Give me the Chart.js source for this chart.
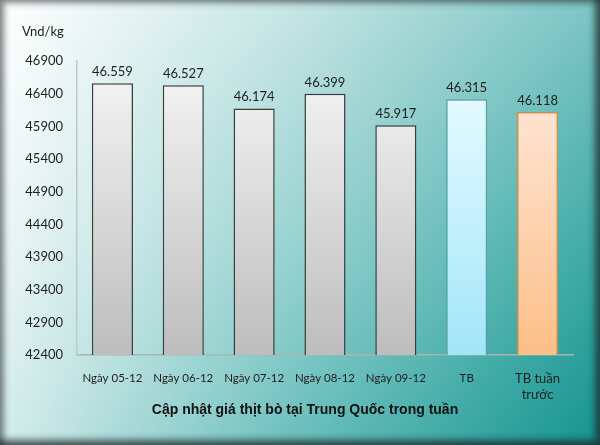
<!DOCTYPE html>
<html>
<head>
<meta charset="utf-8">
<script src="https://cdn.jsdelivr.net/npm/chart.js@4/dist/chart.umd.min.js"></script>
<style>
  html, body { margin: 0; padding: 0; }
  #chartBox { position: relative; width: 600px; height: 445px; }
  #priceCanvas { position: absolute; left: 0; top: 0; }
  #frame {
    position: absolute;
    left: 0; top: 0; width: 600px; height: 445px;
    pointer-events: none;
    box-shadow: inset -5px -5px 7px rgba(30, 40, 40, 0.75), inset 4px 3px 6px rgba(30, 40, 40, 0.55);
  }
</style>
</head>
<body>
<div id="chartBox">
  <canvas id="priceCanvas" width="600" height="445"></canvas>
  <div id="frame"></div>
</div>
<script>
const categories = [
  'Ngày 05-12',
  'Ngày 06-12',
  'Ngày 07-12',
  'Ngày 08-12',
  'Ngày 09-12',
  'TB',
  ['TB tuần', 'trước'],
];
const prices = [46559, 46527, 46174, 46399, 45917, 46315, 46118];
const yTicks = [42400, 42900, 43400, 43900, 44400, 44900, 45400, 45900, 46400, 46900];
const unitLabel = 'Vnd/kg';
const chartTitle = 'Cập nhật giá thịt bò tại Trung Quốc trong tuần';

const tickFont = "Lato, 'Open Sans', sans-serif";

// 46559 -> "46.559"
const formatPrice = v => {
  const s = String(v);
  return s.slice(0, s.length - 3) + '.' + s.slice(-3);
};

/**
 * vertical gradient for each kind of bar (grey days, blue avg, orange last week)
 */
const barFill = ({ chart, dataIndex }) => {
  const { ctx, chartArea } = chart;
  if (!chartArea) return '#d9d9d9';
  const g = ctx.createLinearGradient(0, chartArea.top + 20, 0, chartArea.bottom);
  if (dataIndex === 5) {
    g.addColorStop(0, '#e8fbff');
    g.addColorStop(1, '#a2e6f9');
  } else if (dataIndex === 6) {
    g.addColorStop(0, '#ffe8da');
    g.addColorStop(1, '#fcbf88');
  } else {
    g.addColorStop(0, '#f2f2f2');
    g.addColorStop(1, '#bdbdbd');
  }
  return g;
};

const barBorder = ({ dataIndex }) => {
  if (dataIndex === 5) return '#5a9fab';
  if (dataIndex === 6) return '#d98c40';
  return '#3c3c3c';
};

// background: colours of the top, middle and bottom rows (left, centre, right), blended row by row
const bgRows = [
  { at: 0, cols: [[255, 255, 255], [198, 229, 229], [124, 197, 195]] },
  { at: 0.55, cols: [[236, 246, 246], [150, 210, 208], [62, 170, 166]] },
  { at: 1, cols: [[212, 236, 236], [104, 190, 187], [20, 148, 143]] },
];

const backgroundPlugin = {
  id: 'cornerGradient',
  beforeDraw(chart) {
    const { ctx, width, height } = chart;
    ctx.save();
    for (let y = 0; y < height; y++) {
      const v = y / (height - 1);
      const r = v <= bgRows[1].at ? 0 : 1;
      const a = bgRows[r];
      const b = bgRows[r + 1];
      const f = (v - a.at) / (b.at - a.at);
      const g = ctx.createLinearGradient(0, 0, width, 0);
      [0, 0.5, 1].forEach((stop, i) => {
        const c = a.cols[i].map((t, k) => Math.round(t + (b.cols[i][k] - t) * f));
        g.addColorStop(stop, `rgb(${c[0]},${c[1]},${c[2]})`);
      });
      ctx.fillStyle = g;
      ctx.fillRect(0, y, width, 1);
    }
    ctx.restore();
  },
};

// value labels over the bars, unit text in the corner, title under the axis
const labelsPlugin = {
  id: 'valueLabels',
  afterDatasetsDraw(chart) {
    const { ctx } = chart;
    const meta = chart.getDatasetMeta(0);
    ctx.save();
    ctx.fillStyle = '#1e1e1e';
    ctx.font = `13px ${tickFont}`;
    ctx.textAlign = 'center';
    ctx.textBaseline = 'alphabetic';
    meta.data.forEach((bar, i) => {
      ctx.fillText(formatPrice(prices[i]), bar.x, bar.y - 7);
    });
    ctx.textAlign = 'left';
    ctx.textBaseline = 'middle';
    ctx.fillText(unitLabel, 22, 32);

    ctx.fillStyle = '#111';
    ctx.font = "bold 14px 'Liberation Sans', Arial, sans-serif";
    ctx.textAlign = 'center';
    ctx.fillText(chartTitle, 305, 410);
    ctx.restore();
  },
};

const ctx = document.getElementById('priceCanvas').getContext('2d');

window.PriceChartRef = new Chart(ctx, {
  type: 'bar',
  data: {
    labels: categories,
    datasets: [
      {
        data: prices,
        backgroundColor: barFill,
        borderColor: barBorder,
        borderWidth: 1.5,
        categoryPercentage: 1,
        barPercentage: 0.58,
      },
    ],
  },
  options: {
    responsive: false,
    animation: false,
    layout: { padding: { left: 0, right: 27, top: 61, bottom: 20 } },
    plugins: {
      legend: { display: false },
      tooltip: { enabled: false },
    },
    scales: {
      x: {
        grid: { display: false, drawTicks: false },
        border: { display: true, color: '#a9b4b4', width: 1.5 },
        ticks: {
          color: '#1e1e1e',
          font: c => ({ family: tickFont, size: c.index === 6 ? 13 : 11.5 }),
          padding: 16,
          maxRotation: 0,
          autoSkip: false,
        },
        afterFit(scale) {
          scale.height = 70;
        },
      },
      y: {
        min: yTicks[0],
        max: yTicks[yTicks.length - 1],
        afterBuildTicks(scale) {
          scale.ticks = yTicks.map(value => ({ value }));
        },
        grid: { display: false, drawTicks: false },
        border: { display: true, color: '#c0c8c8', width: 1.5 },
        ticks: {
          color: '#1e1e1e',
          font: { family: tickFont, size: 13 },
          padding: 14,
          callback: v => String(v),
        },
        afterFit(scale) {
          scale.width = 77;
        },
      },
    },
  },
  plugins: [backgroundPlugin, labelsPlugin],
});
</script>
</body>
</html>
